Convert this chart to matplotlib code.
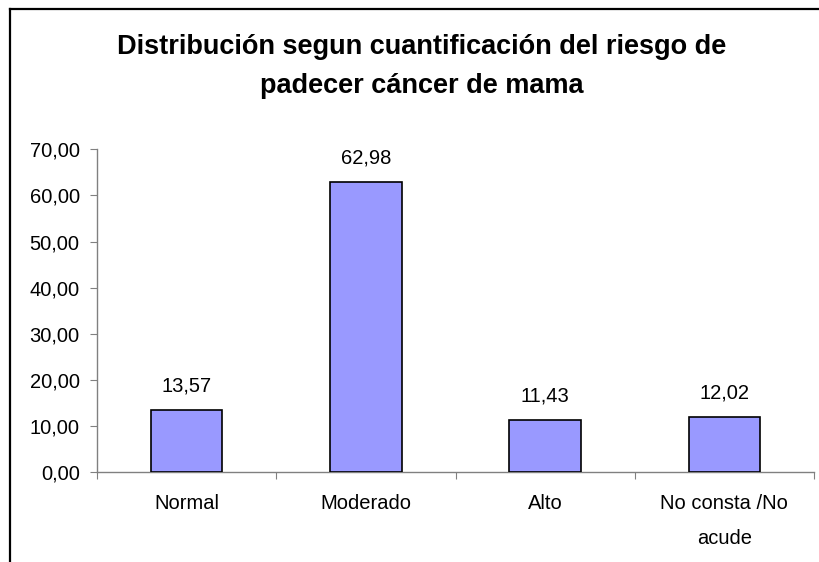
import matplotlib
matplotlib.use("Agg")
import matplotlib.pyplot as plt
from matplotlib.lines import Line2D

plt.rcParams['font.family'] = ['Liberation Sans', 'DejaVu Sans']

categories = ["Normal", "Moderado", "Alto", "No consta /No\nacude"]
values = [13.57, 62.98, 11.43, 12.02]
yticks = [0, 10, 20, 30, 40, 50, 60, 70]
title = "Distribución segun cuantificación del riesgo de\npadecer cáncer de mama"

def fmt(v):
    return f"{v:.2f}".replace(".", ",")

fig = plt.figure(figsize=(8.19, 5.62), dpi=100)
fig.patch.set_facecolor("white")

# outer chart frame (left and top edges visible)
fig.add_artist(Line2D([9.5/819, 9.5/819], [0, 1 - 9/562], transform=fig.transFigure,
                      color="black", lw=1.6))
fig.add_artist(Line2D([9.5/819, 1], [1 - 9/562, 1 - 9/562], transform=fig.transFigure,
                      color="black", lw=1.6))

ax = fig.add_axes([97/819, 1 - 472.3/562, (814 - 97)/819, (472.3 - 149.3)/562])
x = list(range(len(categories)))
ax.bar(x, values, width=0.40, color="#9999FF", edgecolor="black", linewidth=1.2, zorder=3)
ax.set_xlim(-0.5, len(categories) - 0.5)
ax.set_ylim(0, 70)

for xi, v in zip(x, values):
    ax.annotate(fmt(v), (xi, v), xytext=(0, 10), textcoords="offset points",
                ha="center", va="bottom", fontsize=14.5)

for s in ["top", "right"]:
    ax.spines[s].set_visible(False)
for s in ["left", "bottom"]:
    ax.spines[s].set_color("#808080")
    ax.spines[s].set_linewidth(1.0)

ax.set_yticks(yticks)
ax.set_yticklabels([fmt(t) for t in yticks], fontsize=14.5)
ax.tick_params(axis="y", direction="out", length=5, color="#808080", pad=7.5)

ax.set_xticks([i - 0.5 for i in range(len(categories) + 1)])
ax.set_xticklabels([])
ax.tick_params(axis="x", direction="out", length=5, color="#808080")
for xi, c in zip(x, categories):
    ax.text(xi, -0.067, c, transform=ax.get_xaxis_transform(), ha="center", va="top",
            fontsize=14.5, linespacing=2.1)

fig.text(422/819, 1 - 66.5/562, title, ha="center", va="center", fontsize=19.5,
         fontweight="bold", linespacing=1.67)

fig.savefig("out.png", dpi=100)
